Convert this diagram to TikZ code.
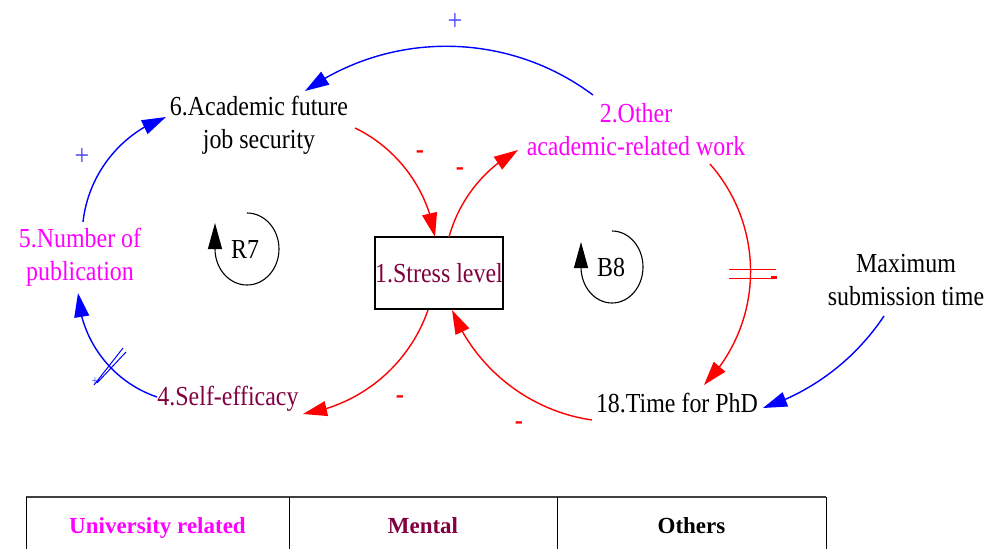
\documentclass[tikz,border=0pt]{standalone}
\usepackage{fontspec}
\setmainfont{Liberation Serif}[FakeStretch=0.87]
\newfontfamily\tabfont{Liberation Serif}
\usetikzlibrary{arrows.meta,bending}
\definecolor{mag}{RGB}{255,0,255}
\definecolor{maroon}{RGB}{128,0,64}
\definecolor{lblue}{RGB}{70,70,255}
\begin{document}
\begin{tikzpicture}[x=1pt,y=-1pt,
  lbl/.style={font=\fontsize{27.5}{33}\selectfont, inner sep=0pt, align=center},
  conn/.style={line width=1.4pt, -{Triangle[length=24pt,width=15pt]}},
  rconn/.style={conn, red},
  bconn/.style={conn, blue},
  minussign/.style={text=red, font=\fontsize{28}{28}\selectfont\bfseries, inner sep=0pt},
  plussign/.style={text=lblue, font=\fontsize{30}{30}\selectfont, inner sep=0pt},
  loopar/.style={line width=1.1pt, -{Triangle[length=26pt,width=14pt]}},
  hdr/.style={font=\tabfont\fontsize{23}{23}\selectfont\bfseries, inner sep=0pt, anchor=base},
  hash/.style={line width=1pt}
]
\useasboundingbox (0,0) rectangle (987,549);

% nodes
\node[lbl] (n6) at (259,125) {6.Academic future\\job security};
\node[lbl, text=mag] (n2) at (636,130) {2.Other\\academic-related work};
\node[lbl, text=mag] (n5) at (80,257) {5.Number of\\publication};
\node[lbl] (nmax) at (906,280) {Maximum\\submission time};
\node[lbl, text=maroon, anchor=base] (n4) at (228,405) {4.Self-efficacy};
\node[lbl, anchor=base] (n18) at (677,412) {18.Time for PhD};
\node[lbl, text=maroon, draw=black, line width=1.8pt, minimum width=128pt, minimum height=72pt] (n1) at (439,273) {1.Stress level};
\node[lbl, anchor=base] (r7) at (245,258) {R7};
\node[lbl, anchor=base] (b8) at (611,276) {B8};

% loops
\draw[loopar] (247,213) arc[start angle=-90, end angle=180, x radius=32, y radius=36] -- ++(0,-26);
\draw[loopar] (612,231) arc[start angle=-90, end angle=180, x radius=31, y radius=36] -- ++(0,-25);

% connectors
\draw[bconn] ([shift={(-43,-35)}]n2.center) to[bend right=36, looseness=0.94] ([shift={(46,-34)}]n6.center);
\draw[bconn] ([shift={(3,-35)}]n5.center) to[bend left=32, looseness=0.92] ([shift={(-93,-8)}]n6.center);
\draw[rconn] ([shift={(96,3)}]n6.center) to[bend left=28, looseness=0.9] ([shift={(-4,-36)}]n1.center);
\draw[rconn] ([shift={(10,-36)}]n1.center) to[bend left=23, looseness=0.89] ([shift={(-118,20)}]n2.center);
\draw[rconn] ([shift={(74,34)}]n2.center) .. controls +(56,64) and +(60,-61) .. ([shift={(27,-27)}]n18.base);
\draw[rconn] ([shift={(-85,8)}]n18.base) to[bend left=30, looseness=0.91] ([shift={(13,37)}]n1.center);
\draw[rconn] ([shift={(-11,37)}]n1.center) to[bend left=31, looseness=0.92] ([shift={(75,9)}]n4.base);
\draw[bconn] ([shift={(-71,-8)}]n4.base) to[bend left=34, looseness=0.93] ([shift={(-2,36)}]n5.center);
\draw[bconn] ([shift={(-22,36)}]nmax.center) to[bend left=19, looseness=0.88] ([shift={(86,-4)}]n18.base);

% delay marks
\draw[hash, red] (729,269) -- (776,269) (729,278) -- (776,278);
\draw[red, line width=2.5pt] (771,277.5) -- (777,277.5);
\draw[hash, blue] (94,385) -- (123,348) (97,383) -- (126,352);
\node[text=lblue, font=\fontsize{14}{14}\selectfont, inner sep=0pt] (pd) at (95,382) {+};

% polarity signs
\node[plussign] (p1) at (455,22) {+};
\node[plussign] (p2) at (82,157) {+};
\node[minussign] (m1) at (420,155) {-};
\node[minussign] (m2) at (460,172) {-};
\node[minussign] (m3) at (400,400) {-};
\node[minussign] (m4) at (519,426) {-};

% legend table
\draw[line width=1.8pt, black!75] (26,497) -- (826,497);
\draw[line width=1pt] (26,497) -- (26,549) (289,497) -- (289,549) (557,497) -- (557,549) (826,497) -- (826,549);
\node[hdr, text=mag] (t1) at (157.5,533) {University related};
\node[hdr, text=maroon] (t2) at (423,533) {Mental};
\node[hdr] (t3) at (691.5,533) {Others};
\end{tikzpicture}
\end{document}
